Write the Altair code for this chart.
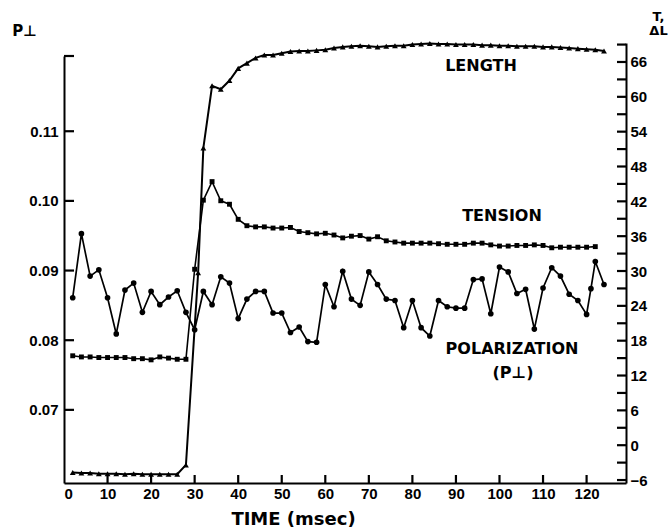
import altair as alt
import pandas as pd

# ---- data ----
pol_time = [2, 4, 6, 8, 10, 12, 14, 16, 18, 20, 22, 24, 26, 28, 30, 32, 34, 36, 38, 40,
            42, 44, 46, 48, 50, 52, 54, 56, 58, 60, 62, 64, 66, 68, 70, 72, 74, 76, 78, 80,
            82, 84, 86, 88, 90, 92, 94, 96, 98, 100, 102, 104, 106, 108, 110, 112, 114, 116, 118, 120,
            121, 122, 124]
pol_value = [0.0861, 0.0953, 0.0892, 0.0901, 0.0861, 0.0809, 0.0872, 0.0882, 0.0840, 0.0870,
             0.0851, 0.0862, 0.0871, 0.0840, 0.0815, 0.0870, 0.0851, 0.0891, 0.0882, 0.0831,
             0.0859, 0.0870, 0.0870, 0.0839, 0.0839, 0.0811, 0.0819, 0.0798, 0.0797, 0.0880,
             0.0848, 0.0899, 0.0859, 0.0850, 0.0898, 0.0880, 0.0859, 0.0857, 0.0818, 0.0857,
             0.0818, 0.0806, 0.0857, 0.0848, 0.0846, 0.0846, 0.0887, 0.0888, 0.0838, 0.0905,
             0.0898, 0.0867, 0.0873, 0.0816, 0.0875, 0.0904, 0.0892, 0.0866, 0.0857, 0.0837,
             0.0874, 0.0913, 0.0880]

tension_time = [2, 4, 6, 8, 10, 12, 14, 16, 18, 20, 22, 24, 26, 28, 30, 32, 34, 36, 38, 40,
                42, 44, 46, 48, 50, 52, 54, 56, 58, 60, 62, 64, 66, 68, 70, 72, 74, 76, 78, 80,
                82, 84, 86, 88, 90, 92, 94, 96, 98, 100, 102, 104, 106, 108, 110, 112, 114, 116, 118, 120,
                122]
tension_value = [15.4, 15.2, 15.2, 15.1, 15.1, 15.1, 15.1, 14.9, 14.9, 14.7, 15.2, 15.0, 14.8, 14.8,
                 30.3, 42.2, 45.4, 42.1, 41.5, 38.9, 37.8, 37.6, 37.6, 37.4, 37.4, 37.5, 36.8, 36.6,
                 36.4, 36.5, 36.2, 35.7, 36.0, 36.1,
                 35.5, 35.9, 35.2, 35.0, 34.8, 34.8, 34.8, 34.8, 34.7, 34.6, 34.6, 34.6, 34.8, 34.8,
                 34.5, 34.3, 34.3, 34.4, 34.4, 34.5, 34.4, 34.0, 34.1, 34.1, 34.1, 34.1, 34.2]

length_time = [2, 4, 6, 8, 10, 12, 14, 16, 18, 20, 22, 24, 26, 28, 30.8, 32, 34, 36, 38, 40,
               42, 44, 46, 48, 50, 52, 54, 56, 58, 60, 62, 64, 66, 68, 70, 72, 74, 76, 78, 80,
               82, 84, 86, 88, 90, 92, 94, 96, 98, 100, 102, 104, 106, 108, 110, 112, 114, 116, 118, 120,
               122, 124]
length_value = [-4.7, -4.8, -4.8, -4.9, -4.9, -4.9, -5.0, -4.9, -5.0, -5.0, -5.0, -5.0, -5.0, -3.4,
                29.7, 51.2, 61.9, 61.3, 62.8, 64.9, 65.8, 66.7, 67.2, 67.2, 67.5, 67.8, 67.9, 67.9,
                68.0, 68.1, 68.4, 68.6, 68.7, 68.8, 68.7, 68.6, 68.7, 68.8, 68.8, 69.0, 69.1, 69.2,
                69.1, 69.1, 69.0, 69.0, 69.0, 68.9, 68.9, 68.8, 68.8, 68.7, 68.7, 68.7, 68.6, 68.6,
                68.5, 68.4, 68.3, 68.2, 68.1, 67.9]

x_tick_vals = [0, 10, 20, 30, 40, 50, 60, 70, 80, 90, 100, 110, 120]
left_tick_vals = [0.07, 0.08, 0.09, 0.10, 0.11, 0.1208]
right_label_vals = [-6, 0, 6, 12, 18, 24, 30, 36, 42, 48, 54, 60, 66]
right_minor_vals = [-6, -3, 0, 3, 6, 9, 12, 15, 18, 21, 24, 27, 30, 33, 36, 39, 42, 45, 48,
                    51, 54, 57, 60, 63, 66, 69]

pol = pd.DataFrame({"t": pol_time, "p": pol_value})
ten = pd.DataFrame({"t": tension_time, "v": tension_value})
lng = pd.DataFrame({"t": length_time, "v": length_value})
xt_df = pd.DataFrame({"tk": x_tick_vals[1:]})
lt_df = pd.DataFrame({"pk": left_tick_vals})
rt_df = pd.DataFrame({"vk": right_minor_vals})

W, H = 562, 440
LF = "Liberation Sans"
AF = "DejaVu Sans"

xscale = alt.Scale(domain=[0, 129.05], nice=False, zero=False)
yl = alt.Scale(domain=[0.0595, 0.1208], range=[H, 13], nice=False, zero=False)
yr = alt.Scale(domain=[-6.51, 69.27], nice=False, zero=False)

x_main = alt.Axis(values=x_tick_vals, ticks=False, tickSize=0, domain=True, domainColor="black",
                  domainWidth=2, labelFont=LF, labelFontSize=15, labelFontWeight="bold",
                  labelColor="black", labelPadding=3, grid=False, orient="bottom",
                  title="TIME (msec)", titleFont=AF, titleFontSize=18, titleFontWeight="bold",
                  titleColor="black", titleX=229, titleY=41, titleAlign="center",
                  titleBaseline="alphabetic")

l_main = alt.Axis(values=left_tick_vals[:5], format=".2f", ticks=False, tickSize=0, domain=True,
                  domainColor="black", domainWidth=2, labelFont=LF, labelFontSize=15,
                  labelFontWeight="bold", labelColor="black", labelPadding=6, grid=False,
                  orient="left", title="P⊥", titleFont=AF, titleFontSize=15,
                  titleFontWeight="bold", titleColor="black", titleAngle=0, titleX=-40,
                  titleY=-13, titleAlign="center", titleBaseline="middle")

r_main = alt.Axis(values=right_label_vals, format="d", ticks=False, tickSize=0, domain=True,
                  domainColor="black", domainWidth=2, labelFont=LF, labelFontSize=15,
                  labelFontWeight="bold", labelColor="black", labelPadding=4, grid=False,
                  orient="right", title=["T,", "ΔL"], titleFont=AF, titleFontSize=13,
                  titleFontWeight="bold", titleColor="black", titleAngle=0, titleX=32,
                  titleY=-33, titleAlign="center", titleBaseline="top", titleLineHeight=14)


def X(ax, f="t"):
    return alt.X(f + ":Q", scale=xscale, axis=ax)


pol_line = alt.Chart(pol).mark_line(color="black", strokeWidth=1.7).encode(
    x=X(x_main), y=alt.Y("p:Q", scale=yl, axis=l_main))
pol_pts = alt.Chart(pol).mark_point(shape="circle", filled=True, size=32, color="black",
                                    opacity=1).encode(
    x=X(None), y=alt.Y("p:Q", scale=yl, axis=None))
ten_line = alt.Chart(ten).mark_line(color="black", strokeWidth=1.6).encode(
    x=X(None), y=alt.Y("v:Q", scale=yr, axis=r_main))
ten_pts = alt.Chart(ten).mark_point(shape="square", filled=True, size=24, color="black",
                                    opacity=1).encode(
    x=X(None), y=alt.Y("v:Q", scale=yr, axis=None))
len_line = alt.Chart(lng).mark_line(color="black", strokeWidth=2).encode(
    x=X(None), y=alt.Y("v:Q", scale=yr, axis=None))
len_pts = alt.Chart(lng).mark_point(shape="triangle-up", filled=True, size=34, color="black",
                                    opacity=1).encode(
    x=X(None), y=alt.Y("v:Q", scale=yr, axis=None))

# inward-pointing tick marks, placed through the axes' own scales
x_ticks = alt.Chart(xt_df).mark_tick(color="black", thickness=2.2, size=8, orient="vertical",
                                     opacity=1).encode(
    x=X(None, "tk"), y=alt.value(H - 4))
l_ticks = alt.Chart(lt_df).mark_tick(color="black", thickness=2.2, size=10, orient="horizontal",
                                     opacity=1).encode(
    y=alt.Y("pk:Q", scale=yl, axis=None), x=alt.value(5))
r_ticks = alt.Chart(rt_df).mark_tick(color="black", thickness=2.2, size=9, orient="horizontal",
                                     opacity=1).encode(
    y=alt.Y("vk:Q", scale=yr, axis=None), x=alt.value(W - 4.5))


def label(txt, px, py):
    return alt.Chart(alt.Data(values=[{}])).mark_text(
        text=txt, font=AF, fontSize=16, fontWeight="bold", color="black",
        align="center", baseline="middle").encode(x=alt.value(px), y=alt.value(py))


chart = alt.layer(
    x_ticks, l_ticks, r_ticks,
    pol_line, pol_pts, ten_line, ten_pts, len_line, len_pts,
    label("LENGTH", 417, 23),
    label("TENSION", 438, 173),
    label("POLARIZATION", 448, 306),
    label("(P⊥)", 449, 330),
).resolve_scale(y="independent").resolve_axis(x="independent", y="independent").properties(
    width=W, height=H,
    autosize=alt.AutoSizeParams(type="none"),
    padding={"left": 64, "top": 43, "right": 42, "bottom": 44},
    background="white",
).configure_view(stroke=None)

chart.save("out.html", embed_options={"renderer": "svg", "actions": False})
